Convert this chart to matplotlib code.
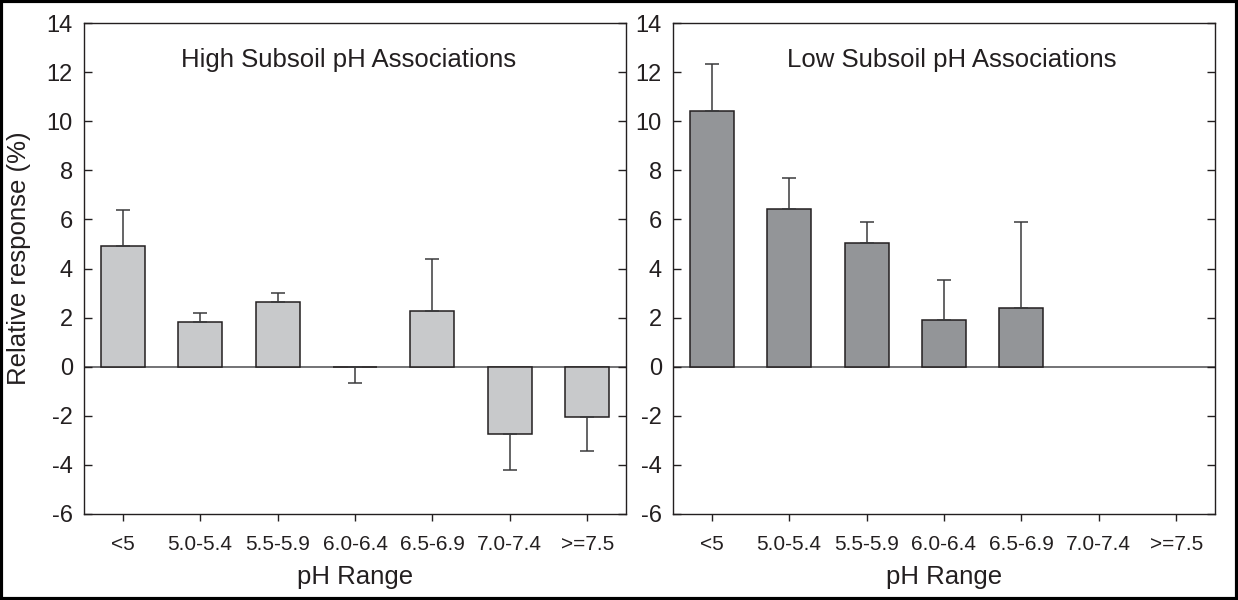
import matplotlib
matplotlib.use('Agg')
import matplotlib.pyplot as plt
import numpy as np
from matplotlib.patches import Rectangle

# pH categories
categories = ["<5", "5.0-5.4", "5.5-5.9", "6.0-6.4", "6.5-6.9", "7.0-7.4", ">=7.5"]

# High subsoil pH associations
high_values = [4.92, 1.83, 2.65, -0.03, 2.28, -2.74, -2.06]
high_err = [1.47, 0.35, 0.34, 0.62, 2.11, 1.47, 1.36]

# Low subsoil pH associations (no data above pH 7.0)
low_values = [10.4, 6.42, 5.03, 1.92, 2.41]
low_err = [1.93, 1.26, 0.88, 1.63, 3.49]

titles = ["High Subsoil pH Associations", "Low Subsoil pH Associations"]
ink = '#231f20'

plt.rcParams['font.family'] = ['Liberation Sans', 'DejaVu Sans']
plt.rcParams['text.color'] = ink
plt.rcParams['axes.unicode_minus'] = False

fig = plt.figure(figsize=(12.38, 6.0), dpi=100)
W, H = 1238, 600
ax_left = fig.add_axes([84 / W, 1 - 514 / H, 542 / W, 491 / H])
ax_right = fig.add_axes([673 / W, 1 - 514 / H, 542 / W, 491 / H])


def draw_panel(ax, values, errs, color, title, title_x):
    x = np.arange(len(values))
    vals = np.array(values)
    errs = np.array(errs)
    # one-sided error bars pointing away from zero
    lower = np.where(vals < 0, errs, 0)
    upper = np.where(vals >= 0, errs, 0)
    ax.axhline(0, color='#4d4d4f', lw=1.1, zorder=1)
    ax.bar(x, vals, width=0.57, color=color, edgecolor=ink, linewidth=1.1, zorder=2)
    ax.errorbar(x, vals, yerr=[lower, upper], fmt='none', ecolor='#3a3a3c',
                elinewidth=1.1, capsize=5, capthick=1.1, zorder=3)
    ax.set_xlim(-0.5, 6.5)
    ax.set_ylim(-6, 14)
    ax.set_yticks(np.arange(-6, 15, 2))
    ax.set_xticks(np.arange(len(categories)))
    ax.set_xticklabels(categories, fontsize=15, color=ink)
    ax.tick_params(axis='y', direction='in', length=6, width=1, labelsize=17,
                   right=True, colors=ink, pad=8)
    ax.tick_params(axis='x', direction='out', length=5, width=1, pad=10, colors=ink)
    for s in ax.spines.values():
        s.set_color(ink)
        s.set_linewidth(1.0)
    ax.set_xlabel('pH Range', fontsize=18.5, color=ink, labelpad=8)
    ax.text(title_x, 0.925, title, transform=ax.transAxes, ha='center', va='center',
            fontsize=18.5, color=ink)


draw_panel(ax_left, high_values, high_err, '#c8c9cb', titles[0], 0.489)
draw_panel(ax_right, low_values, low_err, '#939598', titles[1], 0.515)
ax_left.set_ylabel('Relative response (%)', fontsize=18.5, color=ink)
ax_left.yaxis.set_label_coords(-0.097, 0.52)

# outer frame around the figure
fig.patches.append(Rectangle((0.001, 0.002), 0.998, 0.996, transform=fig.transFigure,
                             fill=False, edgecolor='black', linewidth=3))

fig.savefig('out.png', dpi=100)
